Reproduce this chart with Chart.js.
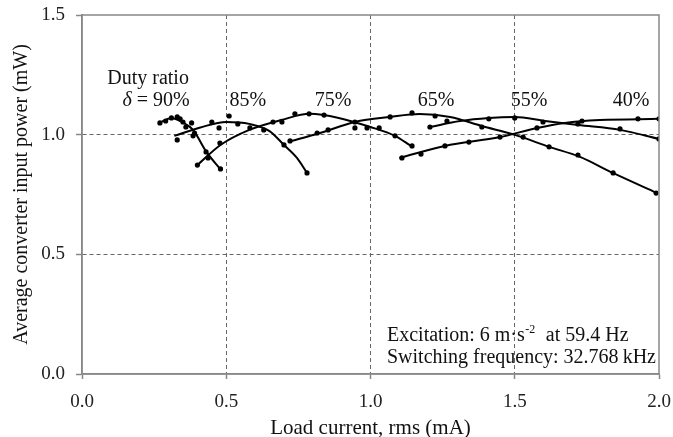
<!DOCTYPE html>
<html>
<head>
<meta charset="utf-8">
<script src="https://cdn.jsdelivr.net/npm/chart.js@4.4.1/dist/chart.umd.min.js"></script>
<style>
  html, body { margin: 0; padding: 0; background: #fff; }
  #wrap { width: 673px; height: 437px; position: relative; }
</style>
</head>
<body>
<div id="wrap"><canvas id="c" width="673" height="437"></canvas></div>
<script>
// Axis ticks
const xTicks = [0.0, 0.5, 1.0, 1.5, 2.0];
const yTicks = [0.0, 0.5, 1.0, 1.5];

// Duty ratios (curve labels)
const dutyLabels = ['90%', '85%', '75%', '65%', '55%', '40%'];

// Measured points: load current (mA) and input power (mW)
const d90x = [0.27, 0.29, 0.31, 0.33, 0.34, 0.35, 0.36, 0.38, 0.39, 0.43, 0.48];
const d90y = [1.049, 1.057, 1.070, 1.074, 1.066, 1.053, 1.032, 1.049, 1.007, 0.928, 0.857];
const d85x = [0.33, 0.385, 0.45, 0.475, 0.51, 0.54, 0.63, 0.70, 0.78];
const d85y = [0.978, 0.995, 1.053, 1.028, 1.078, 1.045, 1.02, 0.957, 0.84];
const d75x = [0.40, 0.437, 0.478, 0.582, 0.662, 0.693, 0.738, 0.787, 0.839, 0.946, 0.988, 1.03, 1.085, 1.144];
const d75y = [0.873, 0.903, 0.965, 1.028, 1.053, 1.053, 1.087, 1.087, 1.082, 1.028, 1.028, 1.028, 0.995, 0.953];
const d65x = [0.721, 0.815, 0.853, 0.946, 1.068, 1.144, 1.224, 1.386, 1.529, 1.619, 1.719, 1.841, 1.99];
const d65y = [0.974, 1.007, 1.02, 1.053, 1.074, 1.091, 1.078, 1.032, 0.990, 0.949, 0.915, 0.840, 0.756];
const d55x = [1.206, 1.265, 1.41, 1.50, 1.598, 1.719, 1.865, 2.0];
const d55y = [1.032, 1.057, 1.066, 1.070, 1.053, 1.045, 1.024, 0.982];
const d40x = [1.109, 1.175, 1.258, 1.341, 1.449, 1.577, 1.733, 1.927, 2.0];
const d40y = [0.903, 0.919, 0.953, 0.969, 0.990, 1.028, 1.057, 1.066, 1.066];

// Fitted trend curves (knots)
const f90x = [0.27, 0.31, 0.35, 0.385, 0.43, 0.48];
const f90y = [1.05, 1.07, 1.05, 1.02, 0.93, 0.855];
const f85x = [0.32, 0.41, 0.50, 0.58, 0.65, 0.70, 0.745, 0.78];
const f85y = [0.995, 1.03, 1.053, 1.045, 1.015, 0.957, 0.903, 0.84];
const f75x = [0.40, 0.48, 0.58, 0.69, 0.79, 0.89, 1.0, 1.085, 1.14];
const f75y = [0.873, 0.957, 1.02, 1.061, 1.087, 1.07, 1.032, 0.995, 0.953];
const f65x = [0.714, 0.825, 0.946, 1.068, 1.17, 1.276, 1.386, 1.50, 1.62, 1.726, 1.84, 1.993];
const f65y = [0.970, 1.007, 1.053, 1.074, 1.086, 1.074, 1.036, 0.999, 0.949, 0.907, 0.84, 0.756];
const f55x = [1.206, 1.31, 1.41, 1.50, 1.605, 1.72, 1.865, 2.0];
const f55y = [1.032, 1.057, 1.07, 1.074, 1.057, 1.04, 1.02, 0.982];
const f40x = [1.10, 1.258, 1.449, 1.577, 1.674, 1.795, 2.0];
const f40y = [0.903, 0.953, 0.99, 1.028, 1.049, 1.061, 1.066];

// Where each duty-ratio label sits (mA, mW)
const labelX = [0.257, 0.575, 0.87, 1.227, 1.55, 1.903];
const labelY = [1.141, 1.141, 1.141, 1.141, 1.141, 1.141];

const SERIF = '"Liberation Serif", "Times New Roman", serif';
const INK = '#000';

function pts(xs, ys) { return xs.map((x, i) => ({ x: x, y: ys[i] })); }

const measured = [[d90x, d90y], [d85x, d85y], [d75x, d75y], [d65x, d65y], [d55x, d55y], [d40x, d40y]];
const fitted = [[f90x, f90y], [f85x, f85y], [f75x, f75y], [f65x, f65y], [f55x, f55y], [f40x, f40y]];

const datasets = [];
fitted.forEach((f, i) => {
  datasets.push({
    label: 'fit ' + dutyLabels[i],
    data: pts(f[0], f[1]),
    showLine: true,
    borderColor: INK,
    borderWidth: 2,
    pointRadius: 0,
    tension: 0.4,
    cubicInterpolationMode: 'monotone',
    fill: false
  });
});
measured.forEach((m, i) => {
  datasets.push({
    label: dutyLabels[i],
    data: pts(m[0], m[1]),
    showLine: false,
    pointRadius: 2.6,
    pointBackgroundColor: INK,
    pointBorderColor: INK,
    pointBorderWidth: 0
  });
});

const FS = 20;

// Frame around the plot area plus the text annotations
const decor = {
  id: 'decor',
  afterDatasetsDraw(chart) {
    const { ctx, chartArea: a, scales } = chart;
    const sx = scales.x, sy = scales.y;
    ctx.save();
    ctx.strokeStyle = '#888';
    ctx.lineWidth = 1.5;
    ctx.strokeRect(a.left, a.top, a.right - a.left, a.bottom - a.top);

    ctx.fillStyle = '#111';
    ctx.textBaseline = 'middle';
    ctx.font = FS + 'px ' + SERIF;

    // "Duty ratio" heading
    ctx.textAlign = 'center';
    ctx.fillText('Duty ratio', sx.getPixelForValue(0.229), sy.getPixelForValue(1.232));

    // duty ratio labels
    dutyLabels.forEach((t, i) => {
      const px = sx.getPixelForValue(labelX[i]);
      const py = sy.getPixelForValue(labelY[i]);
      if (i === 0) {
        const head = '\u03B4';
        const rest = ' = ' + t;
        ctx.font = 'italic ' + FS + 'px ' + SERIF;
        const wh = ctx.measureText(head).width;
        ctx.font = FS + 'px ' + SERIF;
        const wr = ctx.measureText(rest).width;
        const x0 = px - (wh + wr) / 2;
        ctx.textAlign = 'left';
        ctx.font = 'italic ' + FS + 'px ' + SERIF;
        ctx.fillText(head, x0, py);
        ctx.font = FS + 'px ' + SERIF;
        ctx.fillText(rest, x0 + wh, py);
      } else {
        ctx.textAlign = 'center';
        ctx.fillText(t, px, py);
      }
    });

    // test conditions
    ctx.textAlign = 'left';
    const lx = a.left + 305;
    const l1 = a.bottom - 38;
    const l2 = a.bottom - 16;
    let x = lx;
    const p1 = 'Excitation: 6 m\u00B7s';
    ctx.fillText(p1, x, l1);
    x += ctx.measureText(p1).width;
    ctx.font = '12px ' + SERIF;
    ctx.fillText('-2', x + 0.5, l1 - 6);
    x += ctx.measureText('-2').width + 1;
    ctx.font = FS + 'px ' + SERIF;
    ctx.fillText('  at 59.4 Hz', x, l1);
    ctx.fillText('Switching frequency: 32.768\u2009kHz', lx, l2);
    ctx.restore();
  }
};

const edgeClear = (max) => (c) => (c.tick && (c.tick.value === 0 || c.tick.value === max)) ? 'rgba(0,0,0,0)' : '#666';

new Chart(document.getElementById('c'), {
  type: 'scatter',
  data: { datasets: datasets },
  plugins: [decor],
  options: {
    responsive: false,
    animation: false,
    devicePixelRatio: 1,
    layout: { padding: { top: 15, right: 14, left: 0, bottom: 0 } },
    plugins: { legend: { display: false }, tooltip: { enabled: false } },
    scales: {
      x: {
        type: 'linear',
        min: 0, max: 2,
        afterBuildTicks: (s) => { s.ticks = xTicks.map(v => ({ value: v })); },
        afterFit: (s) => { s.height = 63; s.paddingLeft = 0; s.paddingRight = 0; },
        grid: {
          color: edgeClear(2),
          lineWidth: 1,
          tickColor: '#888',
          tickLength: 5,
          tickWidth: 1.5
        },
        border: { display: true, color: '#888', width: 1.5, dash: [4, 3] },
        ticks: {
          color: '#222',
          padding: 12,
          maxRotation: 0,
          font: { family: SERIF, size: 19 },
          callback: (v) => Number(v).toFixed(1)
        },
        title: {
          display: true,
          text: 'Load current, rms (mA)',
          color: '#111',
          font: { family: SERIF, size: 21 },
          padding: { top: 0, bottom: -4 }
        }
      },
      y: {
        type: 'linear',
        min: 0, max: 1.5,
        afterBuildTicks: (s) => { s.ticks = yTicks.map(v => ({ value: v })); },
        afterFit: (s) => { s.width = 82; s.paddingTop = 0; s.paddingBottom = 0; },
        grid: {
          color: edgeClear(1.5),
          lineWidth: 1,
          tickColor: '#888',
          tickLength: 6,
          tickWidth: 1.5
        },
        border: { display: true, color: '#888', width: 1.5, dash: [4, 3] },
        ticks: {
          color: '#222',
          padding: 11,
          font: { family: SERIF, size: 19 },
          callback: (v) => Number(v).toFixed(1)
        },
        title: {
          display: true,
          text: 'Average converter input power (mW)',
          color: '#111',
          font: { family: SERIF, size: 20 },
          padding: { top: 10, bottom: 0 }
        }
      }
    }
  }
});
</script>
</body>
</html>
